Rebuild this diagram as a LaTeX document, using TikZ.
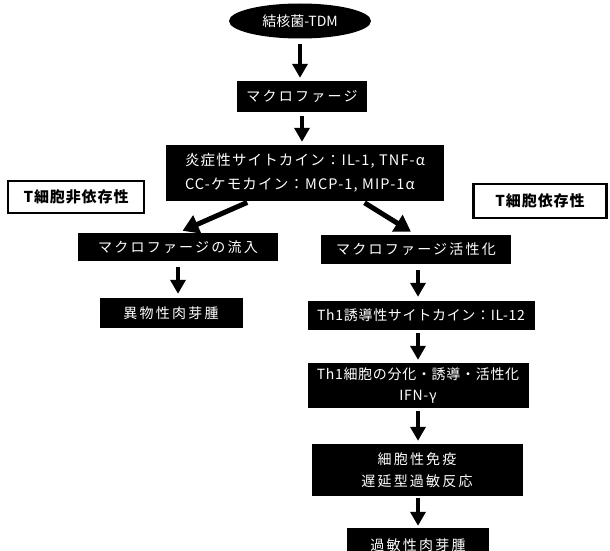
\documentclass[tikz,border=0pt]{standalone}
\usepackage{fontspec}
\usetikzlibrary{arrows.meta,shapes.geometric}
\newfontfamily\jp{Noto Sans CJK JP}
\newfontfamily\jpw{Noto Sans CJK JP}[LetterSpace=16]
\newfontfamily\jpn{Noto Sans CJK JP}[LetterSpace=5]
\newfontfamily\jpi{Noto Sans CJK JP}[LetterSpace=8]
\newfontfamily\jpb{Noto Sans CJK JP}[LetterSpace=6]
\tikzset{
  blk/.style={fill=black,text=white,inner sep=0pt,align=center,
    font={\jpw\fontsize{14}{22}\selectfont}},
  blkn/.style={blk,font={\jpn\fontsize{14}{21}\selectfont}},
  tbox/.style={draw=black,line width=2.6pt,fill=white,inner sep=0pt,
    font={\jpb\bfseries\fontsize{15}{18}\selectfont}},
  arr/.style={line width=4pt,-{Triangle[width=15pt,length=14pt]}},
  darr/.style={line width=5pt,-{Triangle[width=19pt,length=16pt]}}
}
\begin{document}
\begin{tikzpicture}[x=1pt,y=-1pt]
\useasboundingbox[fill=white] (0,0) rectangle (610,551);
\node[ellipse,fill=black,text=white,minimum width=142pt,minimum height=35pt,inner sep=0pt,
  font={\jp\fontsize{14}{18}\selectfont}] (ell) at (300,21) {結核菌-TDM};
\node[blk,minimum width=130pt,minimum height=31pt] (mac) at (302,96.5) {マクロファージ};
\node[blk,minimum width=278pt,minimum height=56pt,align=left,
  font={\jpi\fontsize{14.5}{24}\selectfont}] (infl) at (305,173)
  {炎症性サイトカイン：IL-1, TNF-α\\CC-ケモカイン：MCP-1, MIP-1α};
\node[tbox,minimum width=136pt,minimum height=32pt] (tind) at (76,197) {T細胞非依存性};
\node[tbox,minimum width=133pt,minimum height=34pt] (tdep) at (540,201) {T細胞依存性};
\node[blk,minimum width=200pt,minimum height=28pt] (inflow) at (178,247) {マクロファージの流入};
\node[blk,minimum width=190pt,minimum height=29pt] (act) at (416,249.5) {マクロファージ活性化};
\node[blk,minimum width=143pt,minimum height=30pt] (foreign) at (171,313) {異物性肉芽腫};
\node[blkn,minimum width=227pt,minimum height=29pt] (th1ind) at (421,315.5) {Th1誘導性サイトカイン：IL-12};
\node[blkn,minimum width=221pt,minimum height=45pt] (th1cell) at (418,385.5) {Th1細胞の分化・誘導・活性化\\IFN-γ};
\node[blk,minimum width=211pt,minimum height=52pt] (cmi) at (417,470) {細胞性免疫\\遅延型過敏反応};
\node[blk,minimum width=142pt,minimum height=34pt] (gran) at (418,545) {過敏性肉芽腫};
% connectors
\draw[arr,shorten <=5pt,shorten >=3pt] (ell.south) -- (ell.south |- mac.north);
\draw[arr,shorten <=4pt,shorten >=3pt] (mac.south) -- (mac.south |- infl.north);
\draw[darr,shorten <=3pt,shorten >=5pt] ([xshift=-55pt]infl.south) -- (inflow.north);
\draw[darr,shorten <=3pt,shorten >=6pt] ([xshift=57pt]infl.south) -- (act.north);
\draw[arr,shorten <=6pt,shorten >=4pt] (inflow.south) -- (inflow.south |- foreign.north);
\draw[arr,shorten <=6pt,shorten >=4pt] (act.south -| th1cell.north) -- (th1ind.north -| th1cell.north);
\draw[arr,shorten <=3pt,shorten >=3pt] (th1ind.south -| th1cell.north) -- (th1cell.north);
\draw[arr,shorten <=3pt,shorten >=3pt] (th1cell.south) -- (th1cell.south |- cmi.north);
\draw[arr,shorten <=2pt,shorten >=2pt] (cmi.south -| th1cell.south) -- (th1cell.south |- gran.north);
\end{tikzpicture}
\end{document}
